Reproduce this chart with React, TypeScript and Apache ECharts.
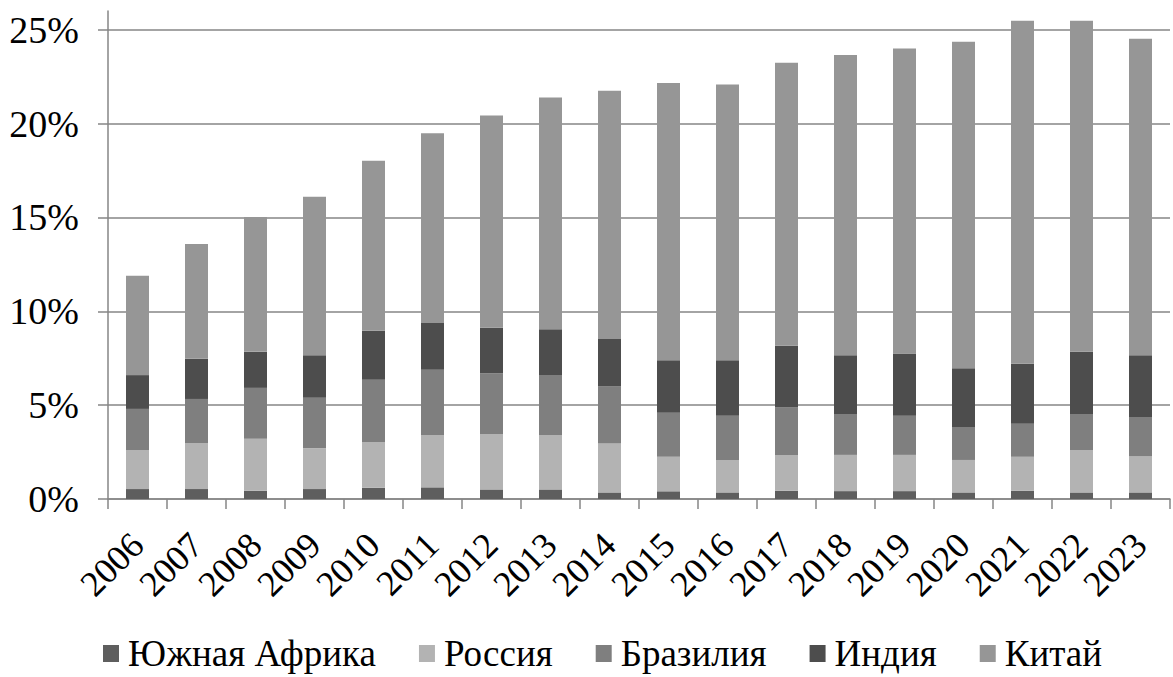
import React, { useEffect, useRef } from 'react';
import * as echarts from 'echarts';

const years = ['2006', '2007', '2008', '2009', '2010', '2011', '2012', '2013', '2014', '2015', '2016', '2017', '2018', '2019', '2020', '2021', '2022', '2023'];
const southAfrica = [0.53, 0.53, 0.44, 0.53, 0.6, 0.62, 0.51, 0.51, 0.35, 0.41, 0.35, 0.44, 0.42, 0.42, 0.35, 0.44, 0.35, 0.35];
const russia = [2.08, 2.45, 2.77, 2.17, 2.44, 2.79, 2.95, 2.9, 2.61, 1.84, 1.73, 1.91, 1.93, 1.93, 1.73, 1.81, 2.26, 1.92];
const brazil = [2.19, 2.35, 2.71, 2.7, 3.32, 3.47, 3.24, 3.2, 3.04, 2.35, 2.36, 2.53, 2.18, 2.09, 1.76, 1.76, 1.92, 2.1];
const india = [1.8, 2.15, 1.92, 2.26, 2.61, 2.5, 2.43, 2.43, 2.53, 2.79, 2.95, 3.29, 3.13, 3.31, 3.12, 3.2, 3.31, 3.29];
const china = [5.3, 6.1, 7.18, 8.44, 9.05, 10.11, 11.3, 12.35, 13.22, 14.78, 14.7, 15.07, 15.99, 16.25, 17.4, 18.27, 17.64, 16.86];
const seriesNames = ['Южная Африка', 'Россия', 'Бразилия', 'Индия', 'Китай'];
const seriesColors = ['#5e5e5e', '#b3b3b3', '#7f7f7f', '#4d4d4d', '#969696'];
const yTicks = [0, 5, 10, 15, 20, 25];

const FONT = "'Liberation Serif', 'Times New Roman', 'DejaVu Serif', serif";

export default function App() {
  const ref = useRef<HTMLDivElement>(null);
  useEffect(() => {
    const chart = echarts.init(ref.current as HTMLDivElement, null, { renderer: 'svg' });
    const data = [southAfrica, russia, brazil, india, china];
    chart.setOption({
      animation: false,
      backgroundColor: '#ffffff',
      textStyle: { fontFamily: FONT },
      grid: { left: 108, right: 3, top: 11, bottom: 178, containLabel: false, outerBoundsMode: 'none' },
      legend: {
        left: 103,
        top: 635,
        padding: 0,
        itemWidth: 16,
        itemHeight: 17,
        itemGap: 43,
        icon: 'rect',
        textStyle: { fontFamily: FONT, fontSize: 37, color: '#000', padding: [0, 0, 0, 4] },
        data: seriesNames,
      },
      xAxis: {
        type: 'category',
        data: years,
        boundaryGap: true,
        axisLine: { lineStyle: { color: '#868686', width: 1.5 } },
        axisTick: { show: true, length: 10, alignWithLabel: false, lineStyle: { color: '#868686', width: 1.5 } },
        axisLabel: { rotate: 45, margin: 40, fontFamily: FONT, fontSize: 36, color: '#000', interval: 0 },
      },
      yAxis: {
        type: 'value',
        min: 0,
        max: 26,
        interval: 5,
        axisLine: { show: true, lineStyle: { color: '#868686', width: 1.5 } },
        axisTick: { show: true, length: 10, customValues: yTicks, lineStyle: { color: '#868686', width: 1.5 } },
        axisLabel: {
          customValues: yTicks,
          margin: 29,
          fontFamily: FONT,
          fontSize: 38,
          color: '#000',
          formatter: (v: number) => `${v}%`,
        },
        splitLine: { show: true, lineStyle: { color: '#868686', width: 1.5 } },
      },
      series: seriesNames.map((name, i) => ({
        name,
        type: 'bar',
        stack: 'total',
        barWidth: 23,
        itemStyle: { color: seriesColors[i] },
        data: data[i],
      })),
    });
    return () => chart.dispose();
  }, []);
  return (
    <div
      ref={ref}
      style={{ position: 'absolute', left: 0, top: 0, width: 1173, height: 677, background: '#fff' }}
    />
  );
}
